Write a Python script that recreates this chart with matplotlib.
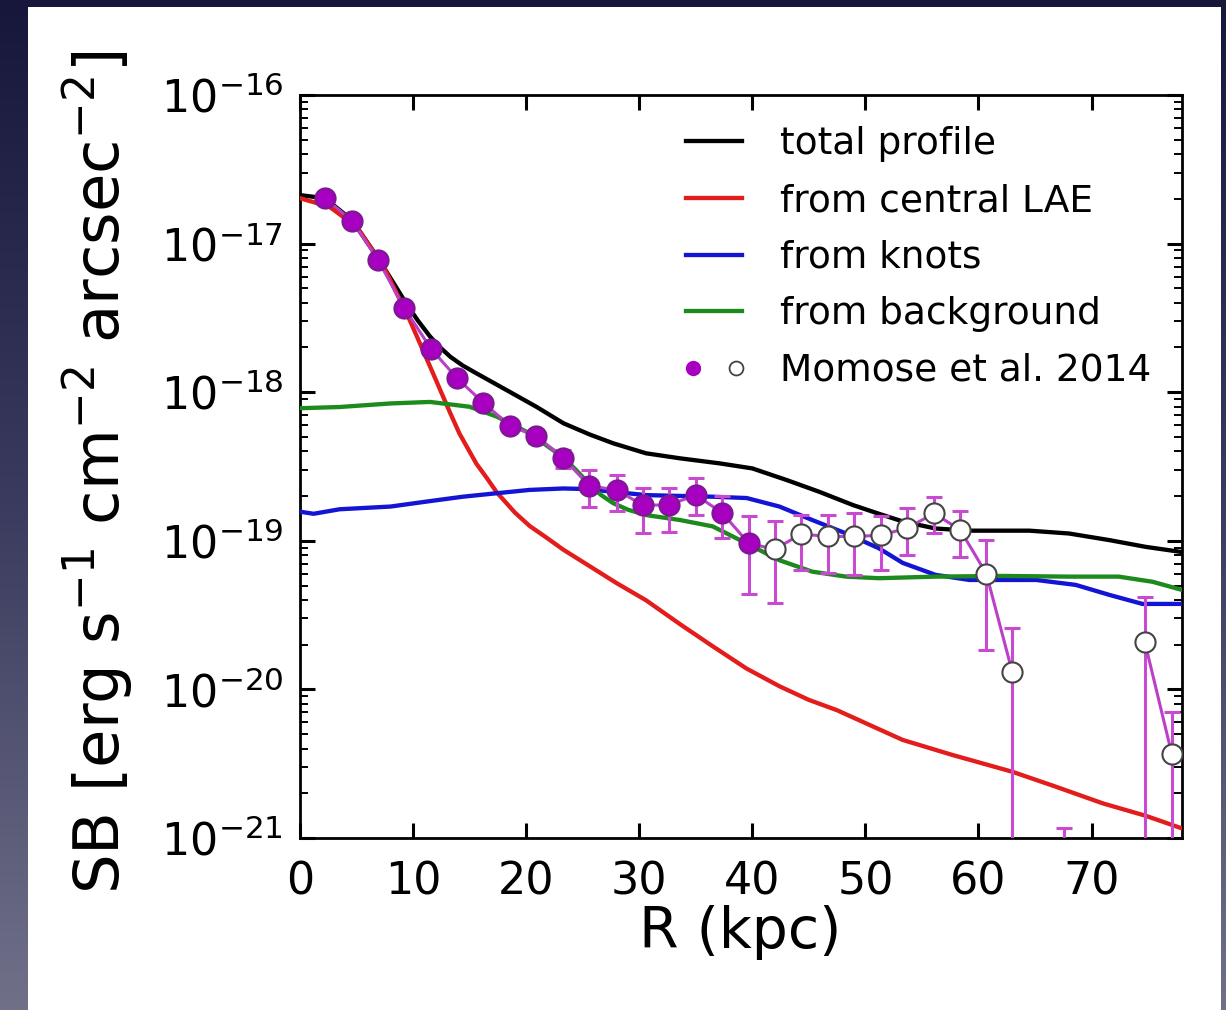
import numpy as np
import matplotlib
matplotlib.use("Agg")
import matplotlib.pyplot as plt
from matplotlib.colors import LinearSegmentedColormap
from matplotlib.legend_handler import HandlerTuple
from matplotlib.lines import Line2D
from matplotlib.patches import Rectangle
from matplotlib.ticker import FixedLocator, FuncFormatter, LogLocator, NullLocator

# ─── MODEL PROFILES ──────────────────────────────────────────
R_TOTAL  = [0, 2.2, 4.6, 6.9, 9.3, 10.4, 11.5, 12.4, 13.3, 14.4, 15.6, 18.3,
            20.9, 23.3, 25.6, 27.7, 30.6, 33.6, 37.1, 40.0, 43.0, 45.9, 48.9,
            51.2, 53.3, 56.2, 59.2, 64.5, 68.0, 71.6, 74.8, 78.0]
SB_TOTAL = [2.12e-17, 2.02e-17, 1.44e-17, 8.0e-18, 4.06e-18, 3.05e-18, 2.37e-18,
            2.0e-18, 1.73e-18, 1.51e-18, 1.34e-18, 1.03e-18, 7.98e-19, 6.18e-19,
            5.2e-19, 4.53e-19, 3.88e-19, 3.59e-19, 3.32e-19, 3.07e-19, 2.57e-19,
            2.14e-19, 1.74e-19, 1.52e-19, 1.35e-19, 1.21e-19, 1.17e-19, 1.17e-19,
            1.12e-19, 1.01e-19, 9.1e-20, 8.4e-20]

R_LAE  = [0, 2.6, 5.0, 7.4, 9.7, 11.5, 13.3, 14.1, 15.6, 16.5, 17.4, 19.0,
          20.3, 21.8, 23.3, 25.6, 28.0, 30.6, 33.6, 36.5, 39.5, 42.4, 45.0,
          47.5, 50.4, 53.3, 57.7, 63.0, 66.8, 71.0, 74.8, 78.0]
SB_LAE = [2.02e-17, 1.77e-17, 1.30e-17, 7.0e-18, 3.06e-18, 1.49e-18, 7.2e-19,
          5.27e-19, 3.3e-19, 2.66e-19, 2.12e-19, 1.55e-19, 1.26e-19, 1.05e-19,
          8.7e-20, 6.76e-20, 5.19e-20, 3.98e-20, 2.75e-20, 1.95e-20, 1.38e-20,
          1.05e-20, 8.5e-21, 7.24e-21, 5.75e-21, 4.57e-21, 3.62e-21, 2.79e-21,
          2.22e-21, 1.71e-21, 1.41e-21, 1.16e-21]

R_KNOTS  = [0, 1.2, 3.5, 8.0, 11.5, 14.4, 17.4, 20.3, 23.3, 25.3, 30.6, 36.5,
            39.5, 42.4, 45.3, 48.3, 51.2, 53.3, 56.2, 59.2, 65.1, 68.6, 71.6,
            74.5, 78.0]
SB_KNOTS = [1.57e-19, 1.52e-19, 1.63e-19, 1.70e-19, 1.85e-19, 1.98e-19, 2.09e-19,
            2.2e-19, 2.25e-19, 2.23e-19, 2.03e-19, 1.98e-19, 1.94e-19, 1.70e-19,
            1.38e-19, 1.12e-19, 8.9e-20, 7.1e-20, 5.9e-20, 5.45e-20, 5.45e-20,
            5.05e-20, 4.32e-20, 3.76e-20, 3.76e-20]

R_BKG  = [0, 3.5, 8.0, 11.5, 15.0, 17.4, 20.3, 23.3, 24.5, 25.6, 26.6, 27.7,
          29.0, 30.6, 33.6, 36.5, 39.5, 42.4, 45.3, 48.3, 51.2, 56.2, 62.1,
          68.0, 72.4, 75.4, 78.0]
SB_BKG = [7.8e-19, 7.95e-19, 8.4e-19, 8.6e-19, 7.98e-19, 6.85e-19, 5.29e-19,
          3.63e-19, 2.95e-19, 2.4e-19, 2.04e-19, 1.79e-19, 1.62e-19, 1.49e-19,
          1.38e-19, 1.25e-19, 9.6e-20, 7.4e-20, 6.2e-20, 5.74e-20, 5.6e-20,
          5.74e-20, 5.8e-20, 5.74e-20, 5.74e-20, 5.3e-20, 4.67e-20]

# ─── MOMOSE ET AL. 2014 DATA ─────────────────────────────────
R_MOM  = [2.2, 4.6, 6.9, 9.2, 11.6, 13.9, 16.2, 18.6, 20.9, 23.3, 25.6, 28.0,
          30.3, 32.6, 35.0, 37.3, 39.7, 42.0, 44.3, 46.7, 49.0, 51.4, 53.7,
          56.1, 58.4, 60.7, 63.0, 65.3, 67.6, 70.0, 72.3, 74.7, 77.1]
SB_MOM = [2.02e-17, 1.43e-17, 7.76e-18, 3.71e-18, 1.95e-18, 1.24e-18, 8.5e-19,
          5.93e-19, 5.07e-19, 3.59e-19, 2.34e-19, 2.2e-19, 1.74e-19, 1.74e-19,
          2.03e-19, 1.55e-19, 9.6e-20, 8.77e-20, 1.11e-19, 1.07e-19, 1.07e-19,
          1.09e-19, 1.22e-19, 1.53e-19, 1.18e-19, 6.0e-20, 1.3e-20, np.nan,
          np.nan, np.nan, np.nan, 2.1e-20, 3.67e-21]
SB_HI  = [2.15e-17, 1.52e-17, 8.3e-18, 3.95e-18, 2.08e-18, 1.33e-18, 9.2e-19,
          6.5e-19, 5.6e-19, 4.1e-19, 3.0e-19, 2.77e-19, 2.25e-19, 2.25e-19,
          2.64e-19, 2.0e-19, 1.47e-19, 1.35e-19, 1.49e-19, 1.49e-19, 1.54e-19,
          1.47e-19, 1.66e-19, 1.98e-19, 1.58e-19, 1.01e-19, 2.58e-20, np.nan,
          1.16e-21, np.nan, np.nan, 4.2e-20, 7.1e-21]
SB_LO  = [1.9e-17, 1.34e-17, 7.2e-18, 3.45e-18, 1.82e-18, 1.15e-18, 7.8e-19,
          5.4e-19, 4.55e-19, 3.1e-19, 1.7e-19, 1.58e-19, 1.13e-19, 1.15e-19,
          1.49e-19, 1.04e-19, 4.4e-20, 3.8e-20, 6.35e-20, 6.1e-20, 5.9e-20,
          6.35e-20, 8.0e-20, 1.12e-19, 7.8e-20, 1.84e-20, 1e-23, np.nan,
          1e-23, np.nan, np.nan, 1e-23, 1e-23]
N_FILLED = 17   # first points drawn filled, the rest open

Y_TICKS = [1e-21, 1e-20, 1e-19, 1e-18, 1e-17, 1e-16]
X_TICKS = [0, 10, 20, 30, 40, 50, 60, 70]

# ─── FIGURE + BACKGROUND ─────────────────────────────────────
fig = plt.figure(figsize=(12.26, 10.10), dpi=100)

bg = fig.add_axes([0, 0, 1, 1], zorder=-10)
bg_cmap = LinearSegmentedColormap.from_list("slide", ["#16173a", "#3a3b5e", "#707089"])
bg.imshow(np.linspace(0, 1, 256).reshape(-1, 1), aspect="auto", cmap=bg_cmap,
          extent=[0, 1, 0, 1])
bg.add_patch(Rectangle((28 / 1226, 0), (1221 - 28) / 1226, 1 - 7 / 1010,
                       facecolor="white", edgecolor="none"))
bg.set_xlim(0, 1)
bg.set_ylim(0, 1)
bg.axis("off")

ax = fig.add_axes([300 / 1226, 1 - 838 / 1010, 882 / 1226, 743 / 1010])
ax.set_facecolor("none")

LW = 3.1
ax.plot(R_TOTAL, SB_TOTAL, color="black", lw=LW, label="total profile", zorder=3)
ax.plot(R_LAE, SB_LAE, color="#e31c1c", lw=LW, label="from central LAE", zorder=3)
ax.plot(R_KNOTS, SB_KNOTS, color="#1414d4", lw=LW, label="from knots", zorder=3)
ax.plot(R_BKG, SB_BKG, color="#1c8a1c", lw=LW, label="from background", zorder=3)

# data: error bars, connecting line, markers
r = np.array(R_MOM)
sb = np.array(SB_MOM)
err_col = "#c94ad0"
ax.vlines(r, SB_LO, SB_HI, color=err_col, lw=2.2, zorder=4)
ax.plot(r, SB_HI, ls="none", marker="_", ms=12, mew=2.2, color=err_col, zorder=4)
ax.plot(r, SB_LO, ls="none", marker="_", ms=12, mew=2.2, color=err_col, zorder=4)
ax.plot(r, sb, color="#bb3fc8", lw=2.2, zorder=5)
ax.plot(r[:N_FILLED], sb[:N_FILLED], ls="none", marker="o", ms=14.5,
        mfc="#a800c0", mec="#7a1a90", mew=1.5, zorder=6)
ax.plot(r[N_FILLED:], sb[N_FILLED:], ls="none", marker="o", ms=14.5,
        mfc="white", mec="#444444", mew=1.5, zorder=6)

# ─── AXES STYLE ──────────────────────────────────────────────
ax.set_yscale("log")
ax.set_xlim(0, 78)
ax.set_ylim(1e-21, 1e-16)

ax.yaxis.set_major_locator(FixedLocator(Y_TICKS))
ax.yaxis.set_minor_locator(LogLocator(base=10, subs=np.arange(2, 10)))
ax.yaxis.set_major_formatter(FuncFormatter(
    lambda v, p: r"$10^{\mathrm{%d}}$" % round(np.log10(v))))
ax.xaxis.set_major_locator(FixedLocator(X_TICKS))
ax.xaxis.set_minor_locator(NullLocator())

ax.tick_params(which="both", direction="in", top=True, right=True)
ax.tick_params(which="major", length=11, width=2.2, labelsize=32, pad=12)
ax.tick_params(which="minor", length=6, width=1.4)
ax.tick_params(axis="x", pad=16)
for s in ax.spines.values():
    s.set_linewidth(2.0)

fig.text(98 / 1226, 1 - 472 / 1010,
         r"SB [erg s$^{-1}$ cm$^{-2}$ arcsec$^{-2}$]",
         rotation=90, ha="center", va="center", fontsize=45)
fig.text(740 / 1226, 1 - 932 / 1010, "R (kpc)",
         ha="center", va="center", fontsize=41)

# ─── LEGEND ──────────────────────────────────────────────────
handles, labels = ax.get_legend_handles_labels()
filled = Line2D([], [], ls="none", marker="o", ms=10, mfc="#a800c0", mec="#a800c0")
hollow = Line2D([], [], ls="none", marker="o", ms=10, mfc="white", mec="#444444", mew=1.3)
handles.append((filled, hollow))
labels.append("Momose et al. 2014")
ax.legend(handles, labels, loc="upper right", frameon=False, fontsize=27,
          handlelength=1.5, handletextpad=1.0, labelspacing=0.55,
          borderaxespad=0.4, bbox_to_anchor=(0.999, 0.998),
          handler_map={tuple: HandlerTuple(ndivide=None, pad=0.8)})

fig.savefig("out.png", dpi=100)
